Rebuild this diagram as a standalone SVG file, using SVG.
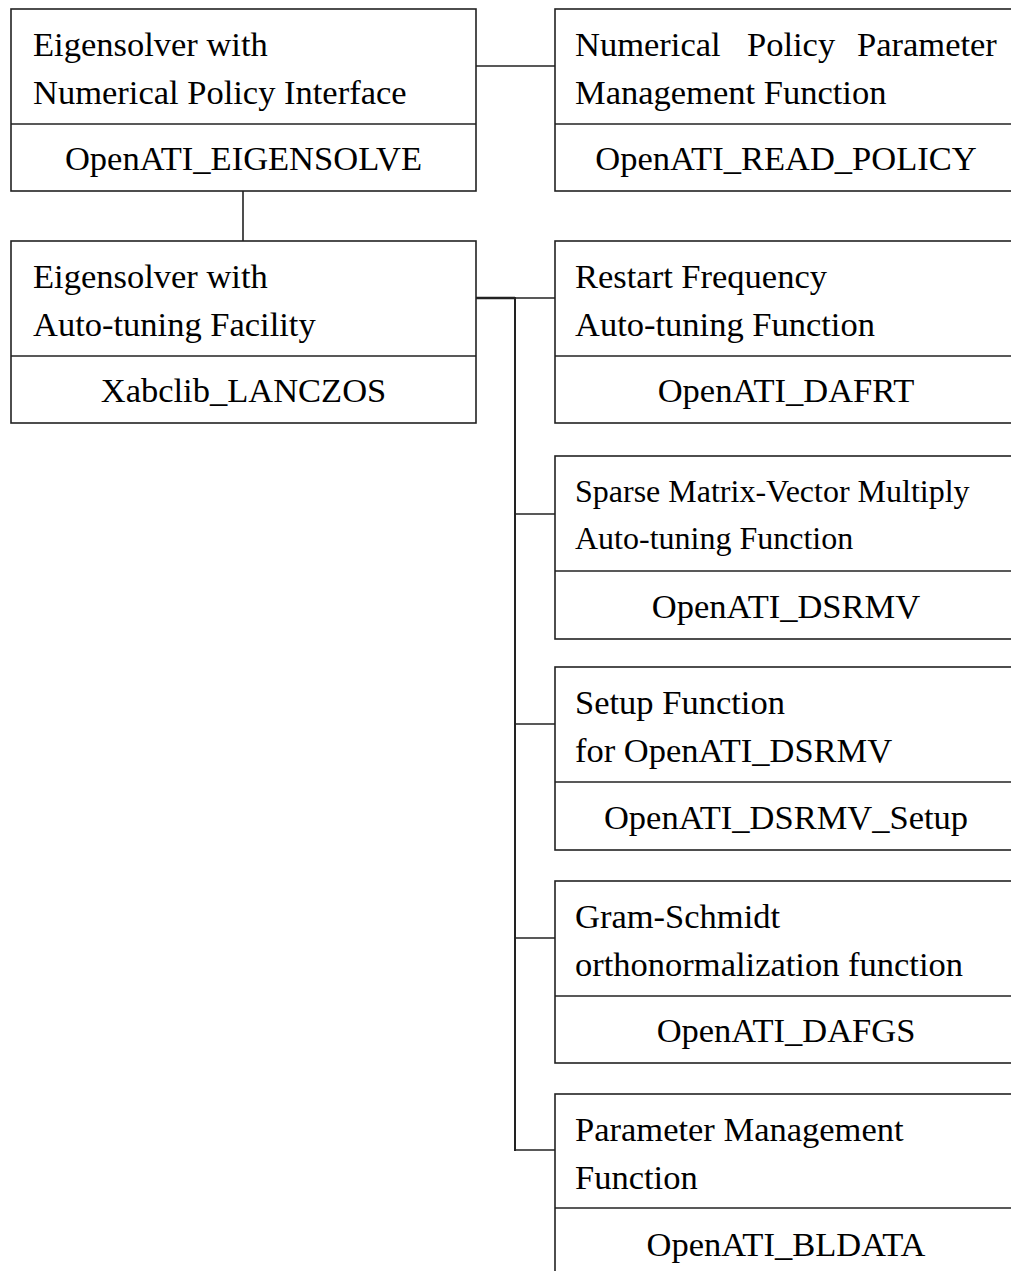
<svg xmlns="http://www.w3.org/2000/svg" width="1011" height="1271" viewBox="0 0 1011 1271">
<style>
.box{fill:#fff;stroke:#222;stroke-width:1.6}
.div{stroke:#222;stroke-width:1.6}
.t{font-family:"Liberation Serif","Times New Roman",serif;font-size:34.5px;fill:#000}
.s{font-size:32px}
.c{text-anchor:middle}
.con{stroke:#222;stroke-width:1.6;fill:none}
</style>
<rect width="1011" height="1271" fill="#fff"/>
<g id="connectors">
<line class="con" x1="476" y1="66" x2="555" y2="66"/>
<line class="con" x1="243" y1="191" x2="243" y2="241"/>
<line class="con" x1="476" y1="298" x2="515" y2="298" style="stroke-width:2.6"/>
<line class="con" x1="515" y1="298" x2="555" y2="298"/>
<line class="con" x1="515" y1="297" x2="515" y2="1151" style="stroke-width:2"/>
<line class="con" x1="515" y1="514" x2="555" y2="514"/>
<line class="con" x1="515" y1="724" x2="555" y2="724"/>
<line class="con" x1="515" y1="938" x2="555" y2="938"/>
<line class="con" x1="515" y1="1150" x2="555" y2="1150"/>
</g>
<g id="eigensolve">
<rect class="box" x="11" y="9" width="465" height="182"/>
<line class="div" x1="11" y1="124" x2="476" y2="124"/>
<text class="t" x="33" y="56">Eigensolver with</text>
<text class="t" x="33" y="104">Numerical Policy Interface</text>
<text class="t c" x="243.5" y="170">OpenATI_EIGENSOLVE</text>
</g>
<g id="read_policy">
<rect class="box" x="555" y="9" width="470" height="182"/>
<line class="div" x1="555" y1="124" x2="1025" y2="124"/>
<text class="t" y="56"><tspan x="575">Numerical</tspan><tspan x="747">Policy</tspan><tspan x="857">Parameter</tspan></text>
<text class="t" x="575" y="104">Management Function</text>
<text class="t c" x="786" y="170">OpenATI_READ_POLICY</text>
</g>
<g id="lanczos">
<rect class="box" x="11" y="241" width="465" height="182"/>
<line class="div" x1="11" y1="356" x2="476" y2="356"/>
<text class="t" x="33" y="288">Eigensolver with</text>
<text class="t" x="33" y="336">Auto-tuning Facility</text>
<text class="t c" x="243.5" y="402">Xabclib_LANCZOS</text>
</g>
<g id="dafrt">
<rect class="box" x="555" y="241" width="470" height="182"/>
<line class="div" x1="555" y1="356" x2="1025" y2="356"/>
<text class="t" x="575" y="288">Restart Frequency</text>
<text class="t" x="575" y="336">Auto-tuning Function</text>
<text class="t c" x="786" y="402">OpenATI_DAFRT</text>
</g>
<g id="dsrmv">
<rect class="box" x="555" y="456" width="470" height="183"/>
<line class="div" x1="555" y1="571" x2="1025" y2="571"/>
<text class="t s" x="575" y="502">Sparse Matrix-Vector Multiply</text>
<text class="t s" x="575" y="549">Auto-tuning Function</text>
<text class="t c" x="786" y="618">OpenATI_DSRMV</text>
</g>
<g id="dsrmv_setup">
<rect class="box" x="555" y="667" width="470" height="183"/>
<line class="div" x1="555" y1="782" x2="1025" y2="782"/>
<text class="t" x="575" y="714">Setup Function</text>
<text class="t" x="575" y="762">for OpenATI_DSRMV</text>
<text class="t c" x="786" y="829">OpenATI_DSRMV_Setup</text>
</g>
<g id="dafgs">
<rect class="box" x="555" y="881" width="470" height="182"/>
<line class="div" x1="555" y1="996" x2="1025" y2="996"/>
<text class="t" x="575" y="928">Gram-Schmidt</text>
<text class="t" x="575" y="976">orthonormalization function</text>
<text class="t c" x="786" y="1042">OpenATI_DAFGS</text>
</g>
<g id="bldata">
<rect class="box" x="555" y="1094" width="470" height="200"/>
<line class="div" x1="555" y1="1208" x2="1025" y2="1208"/>
<text class="t" x="575" y="1141">Parameter Management</text>
<text class="t" x="575" y="1189">Function</text>
<text class="t c" x="786" y="1256">OpenATI_BLDATA</text>
</g>
</svg>
